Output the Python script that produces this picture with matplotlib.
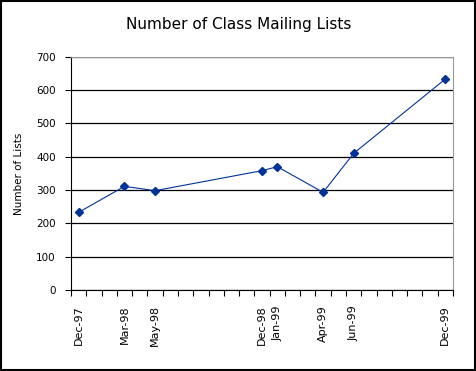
import numpy as np
import pandas as pd
import matplotlib.pyplot as plt
from matplotlib.patches import Rectangle

# Dados
meses = ["Dec-97", "Mar-98", "May-98", "Dec-98", "Jan-99", "Apr-99", "Jun-99", "Dec-99"]
listas = [233, 311, 298, 358, 370, 293, 410, 633]

datas = pd.to_datetime(meses, format="%b-%y")
inicio = datas[0]
x = [(d.year - inicio.year) * 12 + (d.month - inicio.month) for d in datas]
n_meses = x[-1] + 1

plt.rcParams["font.family"] = "DejaVu Sans"
fig = plt.figure(figsize=(4.77, 3.71), dpi=100)
ax = fig.add_axes([71 / 477, 81 / 371, 382 / 477, 233.3 / 371])

ax.plot(x, listas, marker="D", markersize=4.5, linestyle="-", linewidth=0.8, color="#003399")

ax.set_xlim(-0.5, n_meses - 0.5)
ax.set_ylim(0, 700)
ax.set_yticks(np.arange(0, 701, 100))
ax.tick_params(axis="y", direction="out", length=4, width=0.8, labelsize=7.5, pad=7)
ax.yaxis.grid(True, color="black", linewidth=0.9)

ax.set_xticks(x)
ax.set_xticklabels(meses, rotation=90, fontsize=8)
ax.tick_params(axis="x", which="major", length=0, pad=11)
ax.set_xticks(np.arange(-0.5, n_meses, 1), minor=True)
ax.tick_params(axis="x", which="minor", direction="out", length=4, width=0.8)

for lado in ["top", "right"]:
    ax.spines[lado].set_color("#999999")
for lado in ["left", "bottom"]:
    ax.spines[lado].set_color("black")
ax.set_axisbelow(True)

ax.set_ylabel("Number of Lists", fontsize=7.5, labelpad=9)
fig.text(0.5, 1 - 25 / 371, "Number of Class Mailing Lists", ha="center", va="center", fontsize=11)

fig.patches.append(Rectangle((0.002, 0.004), 0.993, 0.993, transform=fig.transFigure,
                             fill=False, edgecolor="black", linewidth=1.5))

fig.savefig("out.png", dpi=100)
